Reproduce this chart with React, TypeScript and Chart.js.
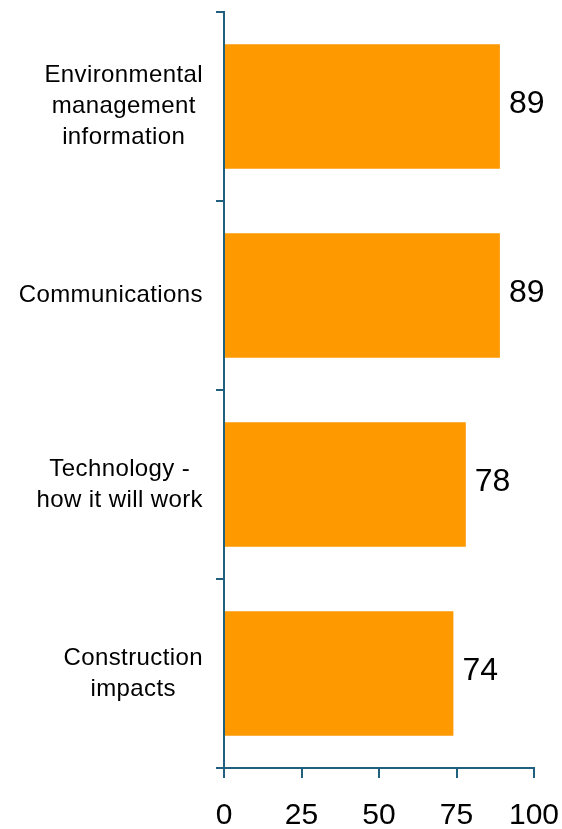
import { useEffect, useRef } from 'react';
import { Chart, registerables } from 'chart.js';

Chart.register(...registerables);

const categories: string[][] = [
  ['Environmental', 'management', 'information'],
  ['Communications'],
  ['Technology -', 'how it will work'],
  ['Construction', 'impacts'],
];
const values: number[] = [89, 89, 78, 74];
const xTicks: number[] = [0, 25, 50, 75, 100];

const AXIS = '#215F7E';
const BAR = '#FF9900';
const FONT = '"Liberation Sans", Arial, sans-serif';

const catLabelPlugin = {
  id: 'catLabels',
  afterDraw(chart: any) {
    const ctx = chart.ctx as CanvasRenderingContext2D;
    const y = chart.scales.y;
    ctx.save();
    ctx.font = `24px ${FONT}`;
    (ctx as any).letterSpacing = '0.4px';
    ctx.fillStyle = '#000';
    ctx.textAlign = 'center';
    ctx.textBaseline = 'alphabetic';
    const capH = 17.2;
    const lineH = 31;
    const right = y.right - 21;
    categories.forEach((lines, i) => {
      const yc = y.getPixelForTick(i) - 2;
      const widest = Math.max(...lines.map((l) => ctx.measureText(l).width));
      const cx = right - widest / 2;
      const n = lines.length;
      lines.forEach((line, j) => {
        const base = yc + capH / 2 + (j - (n - 1) / 2) * lineH;
        ctx.fillText(line, cx, base);
      });
    });
    ctx.restore();
  },
};

const valueLabelPlugin = {
  id: 'valueLabels',
  afterDatasetsDraw(chart: any) {
    const ctx = chart.ctx as CanvasRenderingContext2D;
    const meta = chart.getDatasetMeta(0);
    ctx.save();
    ctx.font = `32px ${FONT}`;
    ctx.fillStyle = '#000';
    ctx.textAlign = 'left';
    ctx.textBaseline = 'middle';
    meta.data.forEach((bar: any, i: number) => {
      ctx.fillText(String(values[i]), bar.x + 9, bar.y - 2);
    });
    ctx.restore();
  },
};

export default function App() {
  const ref = useRef<HTMLCanvasElement | null>(null);

  useEffect(() => {
    if (!ref.current) return;
    const chart = new Chart(ref.current, {
      type: 'bar',
      data: {
        labels: categories.map((l) => l.join(' ')),
        datasets: [
          {
            data: values,
            backgroundColor: BAR,
            borderWidth: 0,
            categoryPercentage: 1,
            barPercentage: 0.66,
          },
        ],
      },
      options: {
        indexAxis: 'y',
        responsive: false,
        animation: false,
        devicePixelRatio: 1,
        layout: { padding: { top: 12, right: 28, left: 0, bottom: 0 } },
        plugins: {
          legend: { display: false },
          tooltip: { enabled: false },
        },
        scales: {
          x: {
            min: 0,
            max: 100,
            afterBuildTicks: (scale: any) => {
              scale.ticks = xTicks.map((v) => ({ value: v }));
            },
            afterFit: (scale: any) => {
              scale.height = 61;
              scale.paddingLeft = 0;
              scale.paddingRight = 0;
            },
            grid: {
              display: true,
              drawOnChartArea: false,
              drawTicks: true,
              tickLength: 10,
              color: AXIS,
              lineWidth: 2,
            },
            border: { display: true, color: AXIS, width: 2 },
            ticks: {
              color: '#000',
              font: { family: FONT, size: 30 },
              padding: 20,
              maxRotation: 0,
              autoSkip: false,
            },
          },
          y: {
            afterFit: (scale: any) => {
              scale.width = 224;
              scale.paddingTop = 0;
              scale.paddingBottom = 0;
            },
            grid: {
              display: true,
              drawOnChartArea: false,
              drawTicks: true,
              tickLength: 8,
              color: AXIS,
              lineWidth: 2,
              offset: true,
            },
            border: { display: true, color: AXIS, width: 2 },
            ticks: { display: false },
          },
        },
      },
      plugins: [catLabelPlugin, valueLabelPlugin],
    } as any);
    return () => chart.destroy();
  }, []);

  return (
    <div style={{ position: 'fixed', left: 0, top: 0, width: 562, height: 829, background: '#fff' }}>
      <canvas ref={ref} width={562} height={829} style={{ display: 'block' }} />
    </div>
  );
}
